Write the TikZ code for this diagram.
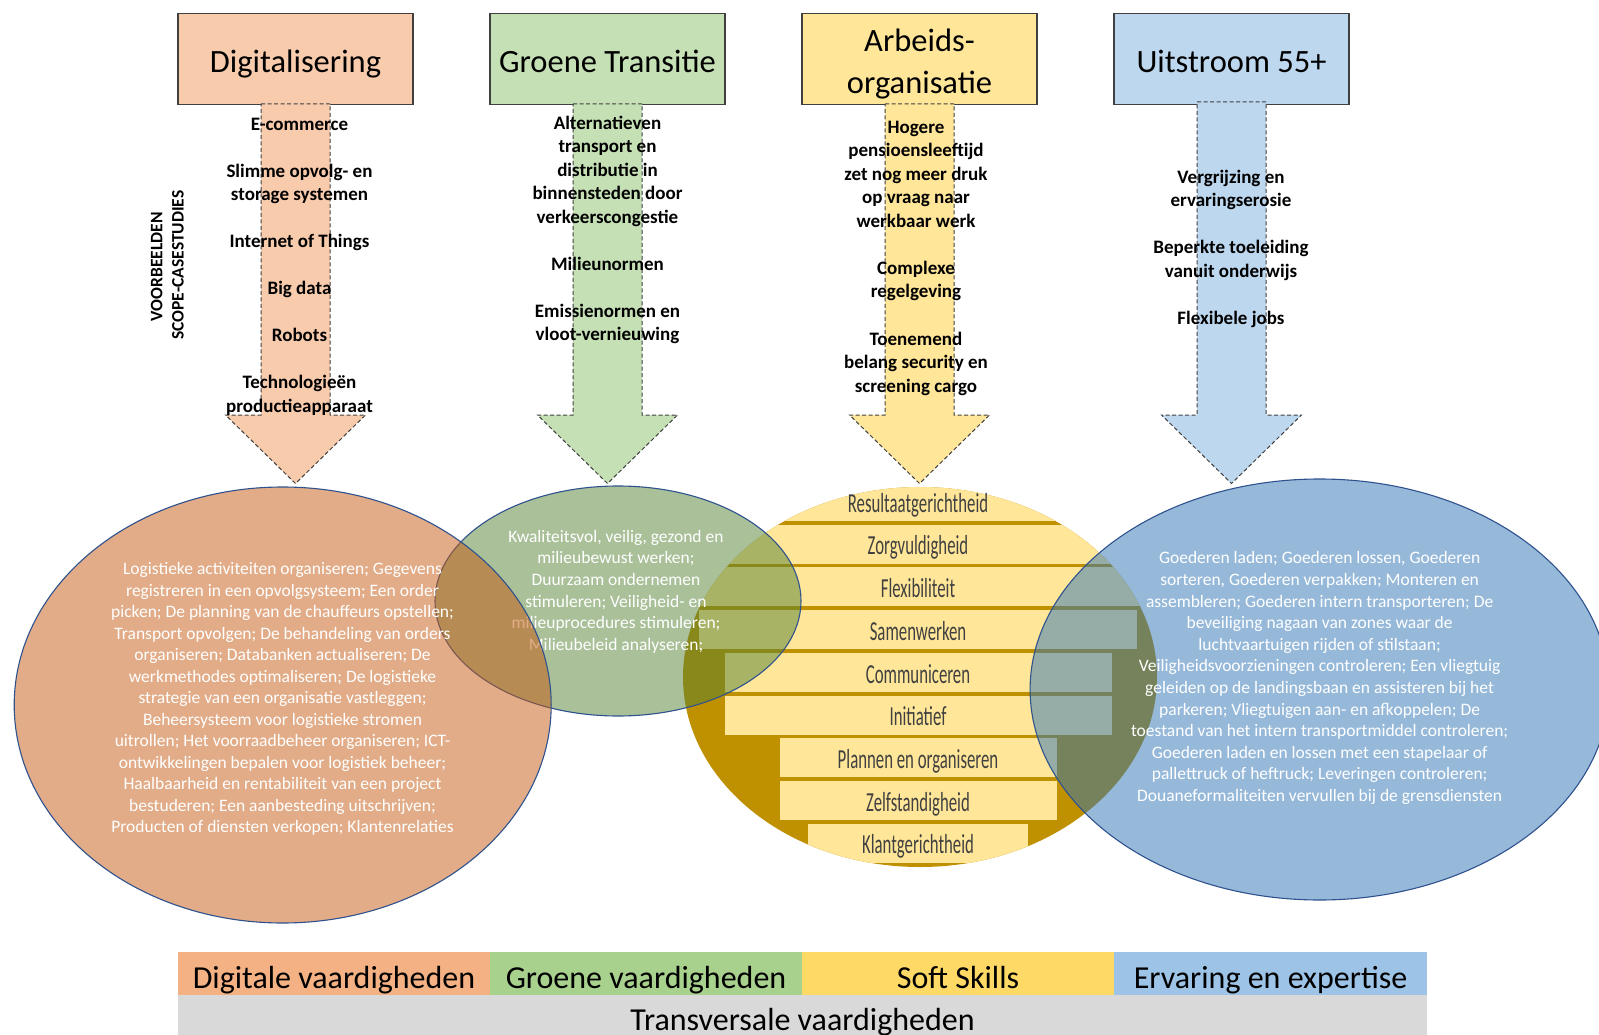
\documentclass[tikz,border=0pt]{standalone}
\usepackage{fontspec}
\setmainfont{Carlito}
\usepackage{graphicx}
\usetikzlibrary{shapes.geometric}

\definecolor{boxO}{HTML}{F8CBAD}
\definecolor{boxG}{HTML}{C5E0B4}
\definecolor{boxY}{HTML}{FFE699}
\definecolor{boxB}{HTML}{BDD7EE}
\definecolor{bandO}{HTML}{F4B183}
\definecolor{bandG}{HTML}{A9D18E}
\definecolor{bandY}{HTML}{FFD966}
\definecolor{bandB}{HTML}{9DC3E6}
\definecolor{bandT}{HTML}{D9D9D9}
\definecolor{ellO}{HTML}{C55A11}
\definecolor{ellG}{HTML}{548235}
\definecolor{ellB}{HTML}{2E75B6}
\definecolor{ellEdge}{HTML}{2F528F}
\definecolor{gold}{HTML}{BF9000}
\definecolor{barY}{HTML}{FFE699}
\definecolor{pyrText}{HTML}{404040}
\definecolor{lineGray}{HTML}{404040}

\begin{document}
\begin{tikzpicture}[x=1pt,y=-1pt,
  titlebox/.style={draw=lineGray, line width=1.2pt, minimum width=235pt, minimum height=91pt, inner sep=0pt},
  titletext/.style={font=\fontsize{32.5}{40}\selectfont, inner sep=0pt, anchor=base},
  blockarrow/.style={draw=lineGray, line width=1pt, dash pattern=on 4pt off 2.5pt},
  arrowtext/.style={font=\fontsize{19}{23.5}\selectfont\bfseries, inner sep=0pt, anchor=base},
  vtext/.style={font=\fontsize{17.5}{21}\selectfont\bfseries, inner sep=0pt, rotate=90},
  ellipsetext/.style={font=\fontsize{17.5}{21.6}\selectfont, text=white, inner sep=0pt, anchor=base},
  pyrtext/.style={font=\fontsize{27.5}{30}\selectfont, text=pyrText, inner sep=0pt, anchor=base},
  venn/.style={ellipse, draw=ellEdge, line width=1.1pt, fill opacity=0.5, inner sep=0pt},
  band/.style={minimum height=43pt, inner sep=0pt, anchor=north west},
  bandtext/.style={font=\fontsize{32}{38}\selectfont, inner sep=0pt, anchor=base}
]
\useasboundingbox (0,0) rectangle (1599,1035);
\fill[white] (0,0) rectangle (1599,1035);

% ---- title boxes
\node[titlebox, fill=boxO] (bdig) at (295.5,58.8) {};
\node[titlebox, fill=boxG] (bgro) at (607.5,58.8) {};
\node[titlebox, fill=boxY] (barb) at (919.5,58.8) {};
\node[titlebox, fill=boxB] (buit) at (1231.5,58.8) {};
\node[titletext] (tdig) at (295.5,72.5) {Digitalisering};
\node[titletext] (tgro) at (607.5,72.5) {Groene Transitie};
\node[titletext] (tarb1) at (919.5,51.5) {Arbeids-};
\node[titletext] (tarb2) at (919.5,93.5) {organisatie};
\node[titletext] (tuit) at (1231.5,72.5) {Uitstroom 55+};

% ---- block arrows
\foreach \cx/\ty/\col in {295.5/104/boxO, 607.5/104/boxG, 919.5/104/boxY, 1231.5/102/boxB}
  \draw[blockarrow, fill=\col] (\cx-34.5,\ty) -- (\cx+34.5,\ty) -- (\cx+34.5,415)
     -- (\cx+70,415) -- (\cx,483.5) -- (\cx-70,415) -- (\cx-34.5,415) -- cycle;

% ---- arrow texts
\foreach \k/\t in {0/E-commerce, 2/Slimme opvolg- en, 3/storage systemen, 5/Internet of Things,
                   7/Big data, 9/Robots, 11/Technologieën, 12/productieapparaat}
  \node[arrowtext] (adig-\k) at (299.5,130.4+23.5*\k) {\t};
\foreach \k/\t in {0/Alternatieven, 1/transport en, 2/distributie in, 3/binnensteden door,
                   4/verkeerscongestie, 6/Milieunormen, 8/Emissienormen en, 9/vloot-vernieuwing}
  \node[arrowtext] (agro-\k) at (607.5,129.4+23.5*\k) {\t};
\foreach \k/\t in {0/Hogere, 1/pensioensleeftijd, 2/zet nog meer druk, 3/op vraag naar,
                   4/werkbaar werk, 6/Complexe, 7/regelgeving, 9/Toenemend,
                   10/belang security en, 11/screening cargo}
  \node[arrowtext] (aarb-\k) at (916,133.5+23.5*\k) {\t};
\foreach \k/\t in {0/Vergrijzing en, 1/ervaringserosie, 3/Beperkte toeleiding,
                   4/vanuit onderwijs, 6/Flexibele jobs}
  \node[arrowtext] (auit-\k) at (1231,183.4+23.5*\k) {\t};

% ---- vertical label
\node[vtext] (vt1) at (156.7,266.7) {VOORBEELDEN};
\node[vtext] (vt2) at (178,265) {SCOPE-CASESTUDIES};

% ---- soft skills pyramid in ellipse
\begin{scope}
  \clip (920,677) ellipse [x radius=237pt, y radius=190pt];
  \fill[gold] (600,450) rectangle (1250,900);
  \fill[barY] (600,450) rectangle (1250,521);
  \foreach \i/\hw in {2/400,3/400,4/219,5/193.5,6/193.5,7/138.5,8/138.5,9/110}
    \fill[barY] (918-\hw,524.7+42.7*\i-85.4) rectangle (918+\hw,521+42.7*\i-42.7);
\end{scope}
\foreach \t [count=\i] in {Resultaatgerichtheid, Zorgvuldigheid, Flexibiliteit, Samenwerken,
                           Communiceren, Initiatief, Plannen en organiseren, Zelfstandigheid,
                           Klantgerichtheid}
  \node[pyrtext] (pyr-\i) at (918,512.2+42.7*\i-42.7) {\scalebox{0.61}[1]{\t}};

% ---- green ellipse
\node[venn, fill=ellG, minimum width=366pt, minimum height=230pt] (vgro) at (618,601) {};
\foreach \t [count=\i from 0] in {{Kwaliteitsvol, veilig, gezond en}, {milieubewust werken;},
    {Duurzaam ondernemen}, {stimuleren; Veiligheid- en}, {milieuprocedures stimuleren;},
    {Milieubeleid analyseren;}}
  \node[ellipsetext] (egro-\i) at (616,542.3+21.6*\i) {\t};

% ---- blue ellipse
\node[venn, fill=ellB, minimum width=579pt, minimum height=421pt] (vuit) at (1319.6,689.5) {};
\foreach \t [count=\i from 0] in {{Goederen laden; Goederen lossen, Goederen},
    {sorteren, Goederen verpakken; Monteren en},
    {assembleren; Goederen intern transporteren; De},
    {beveiliging nagaan van zones waar de},
    {luchtvaartuigen rijden of stilstaan;},
    {Veiligheidsvoorzieningen controleren; Een vliegtuig},
    {geleiden op de landingsbaan en assisteren bij het},
    {parkeren; Vliegtuigen aan- en afkoppelen; De},
    {toestand van het intern transportmiddel controleren;},
    {Goederen laden en lossen met een stapelaar of},
    {pallettruck of heftruck; Leveringen controleren;},
    {Douaneformaliteiten vervullen bij de grensdiensten}}
  \node[ellipsetext] (euit-\i) at (1319.6,563.8+21.6*\i) {\t};

% ---- orange ellipse
\node[venn, fill=ellO, minimum width=537pt, minimum height=436pt] (vdig) at (282.7,705) {};
\foreach \t [count=\i from 0] in {{Logistieke activiteiten organiseren; Gegevens},
    {registreren in een opvolgsysteem; Een order},
    {picken; De planning van de chauffeurs opstellen;},
    {Transport opvolgen; De behandeling van orders},
    {organiseren; Databanken actualiseren; De},
    {werkmethodes optimaliseren; De logistieke},
    {strategie van een organisatie vastleggen;},
    {Beheersysteem voor logistieke stromen},
    {uitrollen; Het voorraadbeheer organiseren; ICT-},
    {ontwikkelingen bepalen voor logistiek beheer;},
    {Haalbaarheid en rentabiliteit van een project},
    {bestuderen; Een aanbesteding uitschrijven;},
    {Producten of diensten verkopen; Klantenrelaties}}
  \node[ellipsetext] (edig-\i) at (282.5,574.8+21.5*\i) {\t};

% ---- bottom bands
\node[band, fill=bandO, minimum width=312pt] (sdig) at (178,952) {};
\node[band, fill=bandG, minimum width=312pt] (sgro) at (490,952) {};
\node[band, fill=bandY, minimum width=312pt] (sarb) at (802,952) {};
\node[band, fill=bandB, minimum width=313pt] (suit) at (1114,952) {};
\node[band, fill=bandT, minimum width=1249pt, minimum height=45pt] (strans) at (178,995) {};
\node[bandtext] (ldig) at (334,988) {Digitale vaardigheden};
\node[bandtext] (lgro) at (646,988) {Groene vaardigheden};
\node[bandtext] (larb) at (958,988) {Soft Skills};
\node[bandtext] (luit) at (1270.5,988) {Ervaring en expertise};
\node[bandtext] (ltrans) at (802.5,1030) {Transversale vaardigheden};
\end{tikzpicture}
\end{document}
